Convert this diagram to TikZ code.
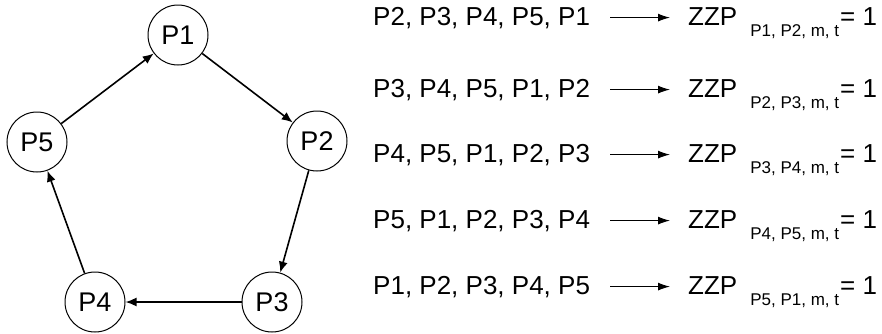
\documentclass[tikz,border=0pt]{standalone}
\usepackage{fontspec}
\setmainfont{Liberation Sans}
\usetikzlibrary{arrows.meta}
\newcommand{\subf}{\fontsize{17}{17}\selectfont}
\tikzset{
  proc/.style={draw, circle, line width=1pt, minimum size=60pt, inner sep=0pt, font=\fontsize{27}{30}\selectfont},
  cyc/.style={line width=1.6pt, -{Latex[length=11pt,width=9pt]}},
  rowtxt/.style={inner sep=0pt, anchor=base west, font=\fontsize{26}{30}\selectfont},
  maparrow/.style={line width=1.1pt, -{Latex[length=12pt,width=8pt]}, shorten <=20pt, shorten >=18pt},
}
\begin{document}
\begin{tikzpicture}[x=1pt,y=-1pt]
\useasboundingbox (0,0) rectangle (882,333);
\node[proc] (P1) at (178,35) {P1};
\node[proc] (P2) at (317,141) {P2};
\node[proc] (P3) at (272,302) {P3};
\node[proc] (P4) at (95,302) {P4};
\node[proc] (P5) at (37,142) {P5};
\draw[cyc] (P1) -- (P2);
\draw[cyc] (P2) -- (P3);
\draw[cyc] (P3) -- (P4);
\draw[cyc] (P4) -- (P5);
\draw[cyc] (P5) -- (P1);

\foreach \i/\b/\seq/\sub in {1/25/{P2, P3, P4, P5, P1}/{P1, P2, m, t},
                             2/97/{P3, P4, P5, P1, P2}/{P2, P3, m, t},
                             3/162/{P4, P5, P1, P2, P3}/{P3, P4, m, t},
                             4/228/{P5, P1, P2, P3, P4}/{P4, P5, m, t},
                             5/294/{P1, P2, P3, P4, P5}/{P5, P1, m, t}} {
  \node[rowtxt] (r\i) at (373,\b) {\seq};
  \node[rowtxt] (z\i) at (688,\b) {ZZP\hspace{13pt}\raisebox{-11pt}{\subf \sub}\hspace{1pt}= 1};
  \draw[maparrow] (r\i.east) -- (r\i.east -| z\i.west);
}
\end{tikzpicture}
\end{document}
